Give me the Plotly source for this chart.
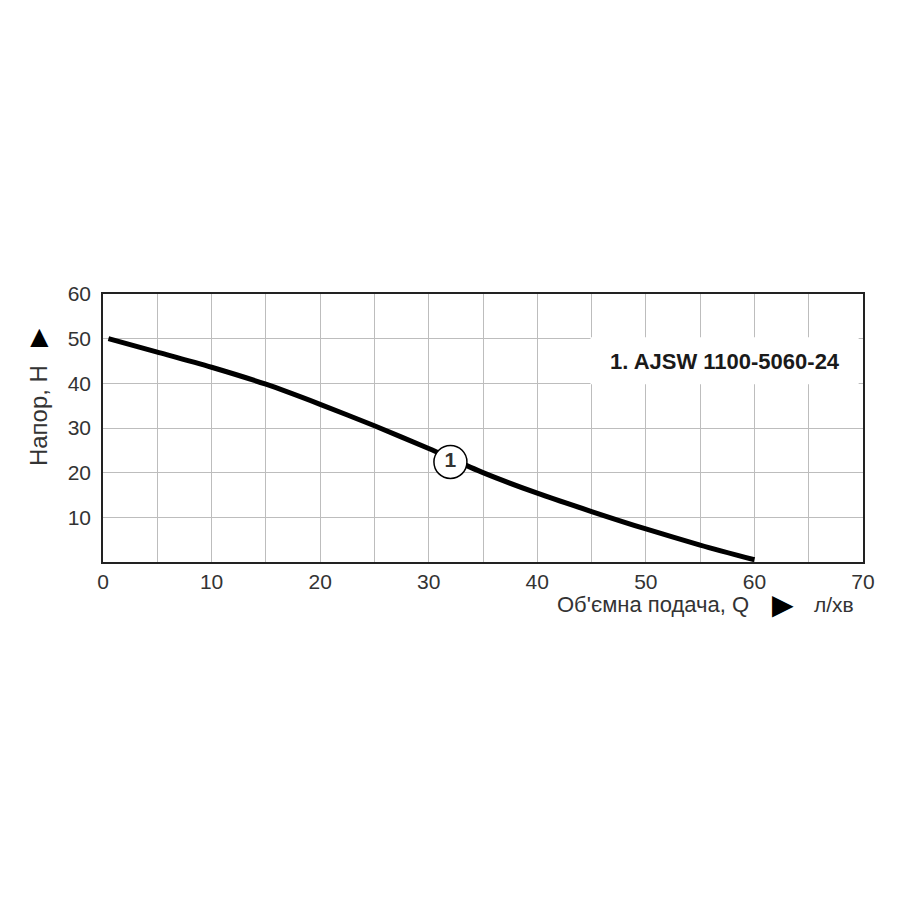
import plotly.graph_objects as go

# pump curve
flow = [0.5, 5, 10, 15, 20, 25, 30, 35, 40, 45, 50, 55, 60]
head = [50, 47, 43.6, 39.8, 35.3, 30.5, 25.4, 20.0, 15.4, 11.3, 7.4, 3.8, 0.5]
curve_name = "1. AJSW 1100-5060-24"
label_pos = (32.0, 22.4)

x_ticks = [0, 10, 20, 30, 40, 50, 60, 70]
y_ticks = [10, 20, 30, 40, 50, 60]

FONT = "Arial, Liberation Sans, sans-serif"
TXT = "#333333"

fig = go.Figure()
fig.add_trace(go.Scatter(x=flow, y=head, mode="lines",
                         line=dict(color="black", width=5, shape="spline", smoothing=0.8),
                         showlegend=False, hoverinfo="skip"))
fig.add_trace(go.Scatter(x=[label_pos[0]], y=[label_pos[1]], mode="markers+text",
                         marker=dict(size=33, color="white", line=dict(color="black", width=1.5)),
                         text=["<b>1</b>"], textposition="middle center",
                         textfont=dict(size=21, color=TXT, family=FONT),
                         showlegend=False, hoverinfo="skip"))

grid = dict(showgrid=True, gridcolor="#bdbdbd", gridwidth=1.3, showline=True, linecolor="#222",
            linewidth=1.5, mirror=True, zeroline=False, ticks="", automargin=False,
            tickfont=dict(size=21, color=TXT, family=FONT))

fig.update_layout(
    width=900, height=900, plot_bgcolor="white", paper_bgcolor="white",
    margin=dict(l=95, r=45, t=286, b=346),
    xaxis=dict(range=[0, 70], tickvals=list(range(0, 71, 5)),
               ticktext=[str(v) if v in x_ticks else "" for v in range(0, 71, 5)], **grid),
    yaxis=dict(range=[0, 60], tickvals=[0] + y_ticks, ticktext=[""] + [str(v) for v in y_ticks],
               ticklabelstandoff=6, **grid),
)

# legend box
fig.add_shape(type="rect", x0=44.9, x1=69.6, y0=39.8, y1=50.3, fillcolor="white", line=dict(width=0), layer="above")
fig.add_annotation(x=57.3, y=45.0, text=f"<b>{curve_name}</b>", showarrow=False,
                   font=dict(size=22, color="#1a1a1a", family=FONT))

# axis titles
fig.add_annotation(xref="paper", yref="paper", x=-0.084, y=0.545, textangle=-90,
                   text="Напор, Н", showarrow=False,
                   xanchor="center", yanchor="middle", font=dict(size=24, color=TXT, family=FONT))
fig.add_annotation(xref="paper", yref="paper", x=-0.084, y=0.84, text="▲", showarrow=False,
                   xanchor="center", yanchor="middle", font=dict(size=31, color="black", family=FONT))
fig.add_annotation(xref="paper", yref="paper", x=0.853, y=-0.16, text="Об'ємна подача, Q",
                   showarrow=False, xanchor="right", yanchor="middle", font=dict(size=22, color=TXT, family=FONT))
fig.add_annotation(xref="paper", yref="paper", x=0.895, y=-0.158, text="►", showarrow=False,
                   xanchor="center", yanchor="middle", font=dict(size=36, color="black", family=FONT))
fig.add_annotation(xref="paper", yref="paper", x=0.962, y=-0.16, text="л/хв", showarrow=False,
                   xanchor="center", yanchor="middle", font=dict(size=21, color=TXT, family=FONT))

fig.write_html("out.html")
